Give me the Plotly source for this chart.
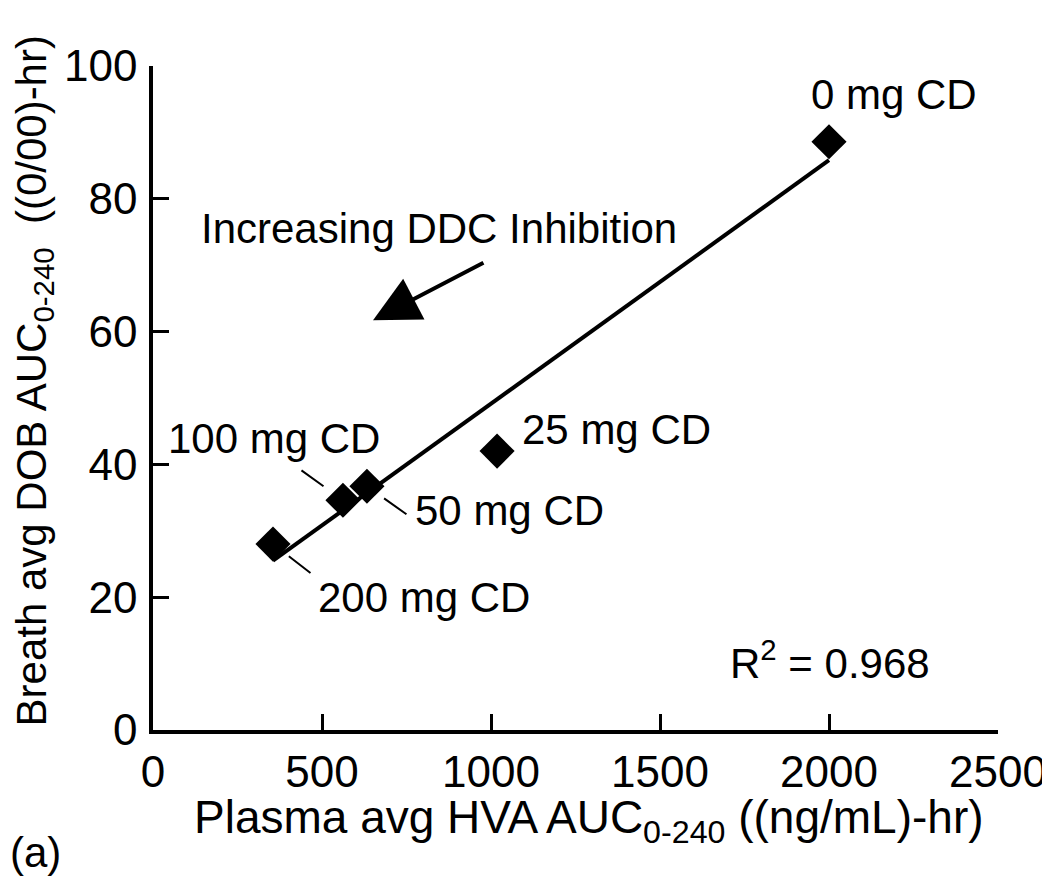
import numpy as np
import plotly.graph_objects as go

# values (a)
doses = ["0 mg CD", "25 mg CD", "50 mg CD", "100 mg CD", "200 mg CD"]
plasma_hva = [2000, 1018, 633, 562, 355]
breath_dob = [88.6, 42.0, 36.7, 34.6, 28.0]
r2_text = "R<sup>2</sup> = 0.968"

x_ticks = [0, 500, 1000, 1500, 2000, 2500]
y_ticks = [0, 20, 40, 60, 80, 100]

x_title = "Plasma avg HVA AUC<sub>0-240</sub> ((ng/mL)-hr)"
y_title = "Breath avg DOB AUC<sub>0-240</sub>  ((0/00)-hr)"

FONT = "Liberation Sans, Arial, sans-serif"
FS = 42

# linear fit through the points
slope, icpt = np.polyfit(plasma_hva, breath_dob, 1)
fit_x = [min(plasma_hva), max(plasma_hva)]
fit_y = [slope * v + icpt for v in fit_x]

fig = go.Figure()
fig.add_trace(go.Scatter(x=fit_x, y=fit_y, mode="lines",
                         line=dict(color="black", width=4), hoverinfo="skip"))
fig.add_trace(go.Scatter(x=plasma_hva, y=breath_dob, mode="markers",
                         marker=dict(symbol="diamond", size=27, color="black"),
                         text=doses))

# label placement: (xanchor, xshift, yshift) in pixels from the point
label_pos = {
    "0 mg CD": ("left", -20, 47),
    "25 mg CD": ("left", 23, 22),
    "50 mg CD": ("left", 46, -24),
    "100 mg CD": ("right", 39, 62),
    "200 mg CD": ("left", 43, -53),
}
# leader lines (ax, ay, standoff)
leaders = {
    "100 mg CD": (-43, -31, 24),
    "50 mg CD": (41, 29, 21),
    "200 mg CD": (39, 30, 20),
}

for name, xv, yv in zip(doses, plasma_hva, breath_dob):
    anc, xs, ys = label_pos[name]
    fig.add_annotation(x=xv, y=yv, text=name, showarrow=False,
                       xanchor=anc, yanchor="middle", xshift=xs, yshift=ys,
                       font=dict(size=FS, color="black", family=FONT))
    if name in leaders:
        ax, ay, so = leaders[name]
        fig.add_annotation(x=xv, y=yv, text="", showarrow=True, arrowhead=0,
                           ax=ax, ay=ay, standoff=so, arrowwidth=2, arrowcolor="black")

fig.add_annotation(x=846, y=75.6, text="Increasing DDC Inhibition", showarrow=False,
                   font=dict(size=FS, color="black", family=FONT))
fig.add_annotation(x=651, y=61.7, ax=982, ay=70.5, axref="x", ayref="y",
                   text="", showarrow=True, arrowhead=2, arrowsize=2.3,
                   arrowwidth=4, arrowcolor="black")
fig.add_annotation(x=1700, y=10.5, text=r2_text, showarrow=False, xanchor="left",
                   font=dict(size=FS, color="black", family=FONT))
fig.add_annotation(xref="paper", yref="paper", x=-0.1716, y=-0.185, text="(a)",
                   showarrow=False, xanchor="left", yanchor="middle",
                   font=dict(size=FS, color="black", family=FONT))

# axis titles as annotations so they sit where the reference has them
fig.add_annotation(xref="paper", yref="paper", x=0.516, y=-0.137, text=x_title,
                   showarrow=False, xanchor="center", yanchor="middle",
                   font=dict(size=46, color="black", family=FONT))
fig.add_annotation(xref="paper", yref="paper", x=-0.1408, y=0.525, text=y_title,
                   showarrow=False, xanchor="center", yanchor="middle", textangle=-90,
                   font=dict(size=42, color="black", family=FONT))

fig.update_layout(
    width=1050, height=886,
    margin=dict(l=145, r=60, t=58, b=164),
    paper_bgcolor="white", plot_bgcolor="white",
    showlegend=False,
    font=dict(family=FONT, color="black", size=FS),
)
fig.update_xaxes(
    range=[0, 2500], tickvals=x_ticks, ticks="inside", ticklen=16, tickwidth=3,
    tickcolor="black", showline=True, linecolor="black", linewidth=3.5,
    showgrid=False, zeroline=False, tickfont=dict(size=44),
)
fig.update_yaxes(
    range=[0, 100], tickvals=y_ticks, ticks="inside", ticklen=16, tickwidth=3,
    tickcolor="black", showline=True, linecolor="black", linewidth=3.5,
    showgrid=False, zeroline=False, tickfont=dict(size=44), ticklabelstandoff=3,
)

fig.write_html("out.html")
